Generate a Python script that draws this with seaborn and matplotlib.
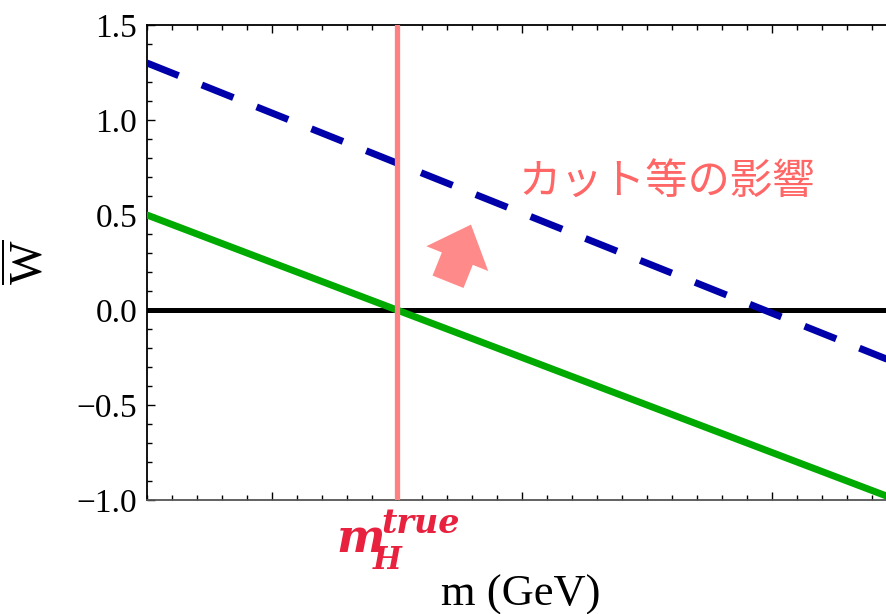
import numpy as np
import pandas as pd
import seaborn as sns
import matplotlib
matplotlib.use("Agg")
import matplotlib.pyplot as plt
from matplotlib.ticker import MultipleLocator, NullFormatter
from matplotlib.patches import FancyArrowPatch

# ---- data ----
m_range = [115, 145]            # GeV
w_green = [0.5, -1.0]           # true-mass line
w_blue = [1.3, -0.28]           # shifted by cuts (dashed)
w_zero = [0.0, 0.0]
m_true = 125
x_major_ticks = [120, 130, 140]
y_ticks = [-1.0, -0.5, 0.0, 0.5, 1.0, 1.5]
y_ticklabels = ["\u22121.0", "\u22120.5", "0.0", "0.5", "1.0", "1.5"]
annot_text = "カット等の影響"

sns.set_style("ticks")
plt.rcParams["lines.scale_dashes"] = False
plt.rcParams["mathtext.fontset"] = "custom"
plt.rcParams["mathtext.rm"] = "Liberation Serif"
plt.rcParams["mathtext.it"] = "Liberation Serif:italic"
plt.rcParams["font.family"] = ["Liberation Serif", "DejaVu Serif"]
plt.rcParams["text.color"] = "black"

W, H = 886, 614
fig = plt.figure(figsize=(W / 100, H / 100), dpi=100)
ax = fig.add_axes([147 / W, 114 / H, 750 / W, 475 / H])

df = pd.DataFrame({"m": m_range, "green": w_green, "blue": w_blue, "zero": w_zero})

sns.lineplot(data=df, x="m", y="zero", ax=ax, color="black", lw=3.6, zorder=2)
sns.lineplot(data=df, x="m", y="green", ax=ax, color="#00AA00", lw=5, zorder=3)
sns.lineplot(data=df, x="m", y="blue", ax=ax, color="#0000AA", lw=5, zorder=3)
ax.lines[-1].set_dashes((24.5, 18))
ax.lines[-1].set_dash_capstyle("butt")
ax.axvline(m_true, color="#FF8080", lw=3.8, zorder=4)

ax.set_xlim(m_range)
ax.set_ylim(-1.0, 1.5)
ax.set_xticks(x_major_ticks)
ax.xaxis.set_minor_locator(MultipleLocator(1))
ax.xaxis.set_major_formatter(NullFormatter())
ax.set_yticks(y_ticks)
ax.set_yticklabels(y_ticklabels, fontsize=24, family="Liberation Serif", color="black")
ax.yaxis.set_minor_locator(MultipleLocator(0.1))
ax.tick_params(which="both", direction="in", top=True, right=True,
               bottom=True, left=True, width=1.0, colors="black")
ax.tick_params(which="major", length=6, pad=7)
ax.tick_params(which="minor", length=3.3)
ax.set_xlabel("")
ax.set_ylabel("")
for s in ["left", "top"]:
    ax.spines[s].set_color("black")
    ax.spines[s].set_linewidth(1.3)
ax.spines["bottom"].set_color("#555555")
ax.spines["bottom"].set_linewidth(1.3)

# annotation text (Japanese)
ax.text(135.8, 0.674, annot_text, color="#FF6666", fontsize=30.5,
        family=["Noto Sans CJK JP", "DejaVu Sans"], ha="center", va="center")

# block arrow
arr = FancyArrowPatch((127.0, 0.135), (128.0, 0.463),
                      arrowstyle="simple,head_width=2.0,head_length=1.1,tail_width=1.0",
                      mutation_scale=24, color="#FF8A8A", lw=0, zorder=5)
ax.add_patch(arr)

# axis labels
fig.text(521 / W, 8 / H, "m (GeV)", fontsize=32, family="Liberation Serif",
         color="black", ha="center", va="baseline")
fig.text(30 / W, 1 - 262 / H, r"$\overline{\mathrm{W}}$", fontsize=33,
         color="black", rotation=90, ha="center", va="center")

# m_H^true label
red = "#E8213F"
fig.text(361 / W, 1 - 552 / H, "m", fontsize=33, family="DejaVu Serif",
         style="italic", weight="bold", color=red, ha="center", va="baseline")
fig.text(387 / W, 1 - 569 / H, "H", fontsize=22, family="DejaVu Serif",
         style="italic", weight="bold", color=red, ha="center", va="baseline")
fig.text(421 / W, 1 - 533 / H, "true", fontsize=24, family="DejaVu Serif",
         style="italic", weight="bold", color=red, ha="center", va="baseline")

fig.savefig("out.png", dpi=100)
